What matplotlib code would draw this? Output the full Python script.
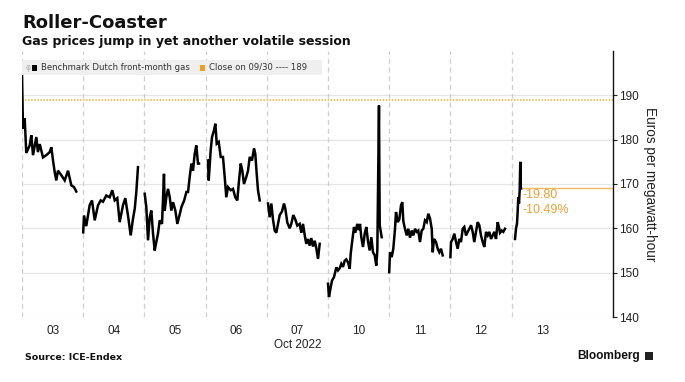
import matplotlib
matplotlib.use("Agg")
import matplotlib.pyplot as plt
from matplotlib.patches import Rectangle

# ---------------- data ----------------
day_labels = ["03", "04", "05", "06", "07\nOct 2022", "10", "11", "12", "13"]

# time within each trading-day slot (fraction of slot) and price (EUR/MWh)
d03_t = [0.00, 0.016, 0.044, 0.07, 0.126, 0.152, 0.18, 0.234, 0.26, 0.29, 0.343, 0.397,
         0.453, 0.479, 0.507, 0.534, 0.56, 0.588, 0.642, 0.698, 0.752, 0.806, 0.85, 0.887]
d03_v = [195, 182.5, 184.8, 177, 178.7, 181, 176.5, 180.6, 177.2, 179, 176, 176.5,
         177.2, 178.3, 175.3, 172.7, 170.8, 173, 172, 170.8, 173, 169.7, 169.3, 168.3]

d04_t = [0.0, 0.013, 0.05, 0.105, 0.144, 0.188, 0.242, 0.286, 0.323, 0.377, 0.433, 0.475,
         0.515, 0.557, 0.596, 0.65, 0.688, 0.732, 0.776, 0.814, 0.842, 0.868, 0.895]
d04_v = [159.1, 162.9, 160.5, 165.2, 166.3, 161.8, 165.2, 166.3, 166, 167.4, 167, 168.6,
         166.3, 166.8, 161.4, 165.2, 166.8, 162.9, 158.4, 162.2, 164.4, 168.2, 173.8]

d05_t = [0.005, 0.031, 0.059, 0.087, 0.113, 0.141, 0.168, 0.194, 0.222, 0.25, 0.288, 0.32,
         0.332, 0.358, 0.386, 0.414, 0.44, 0.468, 0.506, 0.538, 0.578, 0.605, 0.65, 0.686,
         0.713, 0.74, 0.768, 0.794, 0.822, 0.848, 0.876, 0.892]
d05_v = [167.8, 164.8, 157.3, 162.5, 164, 158.8, 155, 156.9, 158.8, 161.8, 161, 172.3,
         164, 167, 168.9, 167, 164, 165.9, 164, 161, 163.2, 164.8, 166.3, 168.2,
         168.2, 171.6, 174.6, 173, 176.8, 178.7, 174.6, 174.6]

d06_t = [0.039, 0.051, 0.083, 0.105, 0.137, 0.159, 0.182, 0.214, 0.247, 0.284, 0.312, 0.338,
         0.366, 0.41, 0.448, 0.485, 0.518, 0.546, 0.574, 0.6, 0.627, 0.665, 0.693, 0.721,
         0.758, 0.791, 0.812, 0.835, 0.856, 0.884]
d06_v = [175.3, 170.8, 177.6, 180.6, 182.1, 183.6, 179.1, 179.5, 176.1, 176.1, 171.6, 167,
         169.3, 168.6, 168.9, 167, 166.3, 170.8, 174.6, 173, 170, 171.6, 173, 176.1,
         175.3, 178, 176.8, 172.3, 168.6, 166.3]

d07_t = [0.02, 0.047, 0.074, 0.101, 0.129, 0.155, 0.183, 0.211, 0.248, 0.281, 0.302, 0.335,
         0.374, 0.4, 0.433, 0.466, 0.498, 0.537, 0.564, 0.592, 0.619, 0.645, 0.673, 0.701,
         0.727, 0.755, 0.783, 0.809, 0.837, 0.864]
d07_v = [165.6, 162.5, 165.6, 162, 159.5, 159, 161, 163, 163.8, 165.6, 164.5, 161.3,
         160, 161, 163, 162, 160.6, 161, 159, 161, 158.5, 156.5, 157.6, 156.1,
         157.8, 155.9, 157.2, 155.5, 153.1, 156.5]

d10_t = [0.0, 0.016, 0.044, 0.065, 0.098, 0.136, 0.163, 0.191, 0.217, 0.245, 0.273, 0.299,
         0.327, 0.355, 0.371, 0.397, 0.425, 0.446, 0.479, 0.502, 0.523, 0.544, 0.572, 0.6,
         0.626, 0.654, 0.681, 0.708, 0.735, 0.763, 0.789, 0.806, 0.833, 0.845, 0.877]
d10_v = [147.5, 144.5, 146.7, 148.2, 149, 151.2, 150.5, 151, 152, 151.3, 152.7, 153,
         152.3, 150.9, 154.3, 157.3, 160.3, 159, 161, 159.6, 161, 158, 155.8, 158.8,
         160.3, 157, 155, 158, 154.6, 153.9, 151.6, 155, 187.7, 160.7, 158]

d11_t = [0.0, 0.013, 0.041, 0.067, 0.095, 0.111, 0.139, 0.165, 0.193, 0.214, 0.231, 0.258,
         0.286, 0.312, 0.34, 0.368, 0.394, 0.422, 0.449, 0.475, 0.503, 0.531, 0.557, 0.585,
         0.613, 0.639, 0.667, 0.695, 0.711, 0.732, 0.765, 0.792, 0.819, 0.846, 0.874]
d11_v = [150.1, 154.6, 153.5, 155.4, 159.9, 163.7, 161.4, 162, 165.2, 165.9, 161.6, 159.9,
         158.4, 159.9, 157.9, 159.5, 158.4, 159.9, 159.2, 159.5, 156.9, 159.5, 159.9, 161.8,
         161.4, 163.3, 162.2, 159.9, 154.6, 157.6, 156.9, 155.4, 154.6, 155.4, 153.9]

d12_t = [0.0, 0.01, 0.038, 0.064, 0.092, 0.119, 0.145, 0.173, 0.201, 0.227, 0.255, 0.283,
         0.309, 0.337, 0.364, 0.39, 0.418, 0.446, 0.472, 0.5, 0.528, 0.554, 0.582, 0.61,
         0.636, 0.664, 0.691, 0.717, 0.745, 0.773, 0.799, 0.81, 0.838, 0.864, 0.892]
d12_v = [153.5, 156.9, 157.6, 158.8, 156.9, 155.4, 157.6, 156.9, 159.9, 160.3, 158.4, 159.2,
         159.9, 160.7, 159.2, 156.9, 159.2, 161.4, 160.7, 158.4, 156.9, 155.8, 159.2, 158.4,
         159.2, 157.6, 158.4, 159.2, 157.6, 161.4, 159.9, 159, 159.5, 159.2, 159.9]

d13_t = [0.056, 0.072, 0.088, 0.1, 0.109, 0.121, 0.132, 0.142, 0.149, 0.154]
d13_v = [157.6, 160, 161, 164, 167, 165.6, 168.6, 175, 169, 169]

sessions = [(d03_t, d03_v), (d04_t, d04_v), (d05_t, d05_v), (d06_t, d06_v), (d07_t, d07_v),
            (d10_t, d10_v), (d11_t, d11_v), (d12_t, d12_v), (d13_t, d13_v)]

close_0930 = 189
change_abs = "19.80"
change_pct = "10.49%"
y_ticks = [140, 150, 160, 170, 180, 190]

# ---------------- style ----------------
W, H = 685, 382
BLACK = "#000000"
ORANGE = "#f0a020"
ORANGE_TXT = "#eb9f3a"
GRID = "#e6e6e6"
DASH = "#cfcfcf"
TICKFONT = "Liberation Sans"


def px(x, y):
    return x / W, 1 - y / H


fig = plt.figure(figsize=(W / 100, H / 100), dpi=100)
ax_l, ax_r, ax_t, ax_b = 22, 613, 51, 317
ax = fig.add_axes([ax_l / W, 1 - ax_b / H, (ax_r - ax_l) / W, (ax_b - ax_t) / H])

slot_px = 61.2
x_max = (ax_r - ax_l) / slot_px
ax.set_xlim(0, x_max)
ax.set_ylim(140, 200)

# grid
for yv in y_ticks:
    ax.axhline(yv, color=GRID, lw=0.9, zorder=0)
for i in range(len(day_labels)):
    ax.axvline(i, color=DASH, lw=0.9, ls=(0, (4, 3)), zorder=0)

# close reference line
ax.axhline(close_0930, color="#f2b030", lw=1.1, ls=(0, (1, 1)), zorder=1)

# price line
last_x, last_y = None, None
for i, (t, v) in enumerate(sessions):
    xs = [i + f for f in t]
    ax.plot(xs, v, color=BLACK, lw=1.8, zorder=3, solid_joinstyle="miter")
    last_x, last_y = xs[-1], v[-1]

# last price marker line and change annotation
ax.plot([last_x, x_max], [last_y, last_y], color="#f5b860", lw=1.0, zorder=2)
ax.text(last_x + 0.02, 167.6, "-" + change_abs, color=ORANGE_TXT, fontsize=9,
        family=TICKFONT, va="center", ha="left")
ax.text(last_x + 0.02, 164.2, "-" + change_pct, color=ORANGE_TXT, fontsize=9,
        family=TICKFONT, va="center", ha="left")

# axes styling
for s in ["left", "top", "bottom"]:
    ax.spines[s].set_visible(False)
ax.spines["right"].set_linewidth(1.0)
ax.spines["right"].set_color("#111111")
ax.yaxis.tick_right()
ax.set_yticks(y_ticks)
ax.set_yticklabels([str(v) for v in y_ticks], family=TICKFONT)
ax.tick_params(axis="y", direction="out", length=3, width=0.8, pad=1.5,
               labelsize=8.5, colors="#222222")
ax.set_xticks([i + 0.5 for i in range(len(day_labels))])
ax.set_xticklabels(day_labels, family=TICKFONT, linespacing=1.15)
ax.tick_params(axis="x", length=0, pad=6, labelsize=8.5, colors="#222222")
ax.yaxis.set_label_position("right")
ax.set_ylabel("Euros per megawatt-hour", rotation=270, va="center", ha="center",
              family=TICKFONT, fontsize=9.8, color="#222222")
ax.yaxis.set_label_coords((650 - ax_l) / (ax_r - ax_l), 0.5)

# legend band
lx0, ly0 = px(22, 75)
lx1, ly1 = px(322, 60)
fig.patches.append(Rectangle((lx0, ly0), lx1 - lx0, ly1 - ly0, transform=fig.transFigure,
                             facecolor="#efefef", edgecolor="none", zorder=5))
fig.text(*px(26, 68), "φ", color="#b0b0b0", fontsize=5.5, va="center", ha="left", zorder=6)
sx, sy = px(32, 70.5)
fig.patches.append(Rectangle((sx, sy), 5.5 / W, 6 / H, transform=fig.transFigure,
                             facecolor=BLACK, edgecolor="none", zorder=6))
fig.text(*px(41, 67.5), "Benchmark Dutch front-month gas", fontsize=6.15, color="#333333",
         va="center", ha="left", zorder=6)
sx, sy = px(200, 70.5)
fig.patches.append(Rectangle((sx, sy), 5.5 / W, 6 / H, transform=fig.transFigure,
                             facecolor=ORANGE, edgecolor="none", zorder=6))
fig.text(*px(209, 67.5), "Close on 09/30 ---- %d" % close_0930, fontsize=6.15, color="#333333",
         va="center", ha="left", zorder=6)

# titles
fig.text(*px(22, 28), "Roller-Coaster", fontsize=13, fontweight="bold", color="#111111",
         va="baseline", ha="left")
fig.text(*px(22, 45), "Gas prices jump in yet another volatile session", fontsize=9,
         fontweight="bold", color="#111111", va="baseline", ha="left")

# footer
fig.text(*px(25, 357), "Source: ICE-Endex", fontsize=6.8, fontweight="bold", color="#111111",
         va="center", ha="left")
fig.text(*px(640, 356), "Bloomberg", fontsize=8.6, fontweight="bold", family="Liberation Sans",
         color="#111111", va="center", ha="right")
bx, by = px(645, 360)
fig.patches.append(Rectangle((bx, by), 8 / W, 8 / H, transform=fig.transFigure,
                             facecolor="#222222", edgecolor="none"))

fig.savefig("out.png", dpi=100)
